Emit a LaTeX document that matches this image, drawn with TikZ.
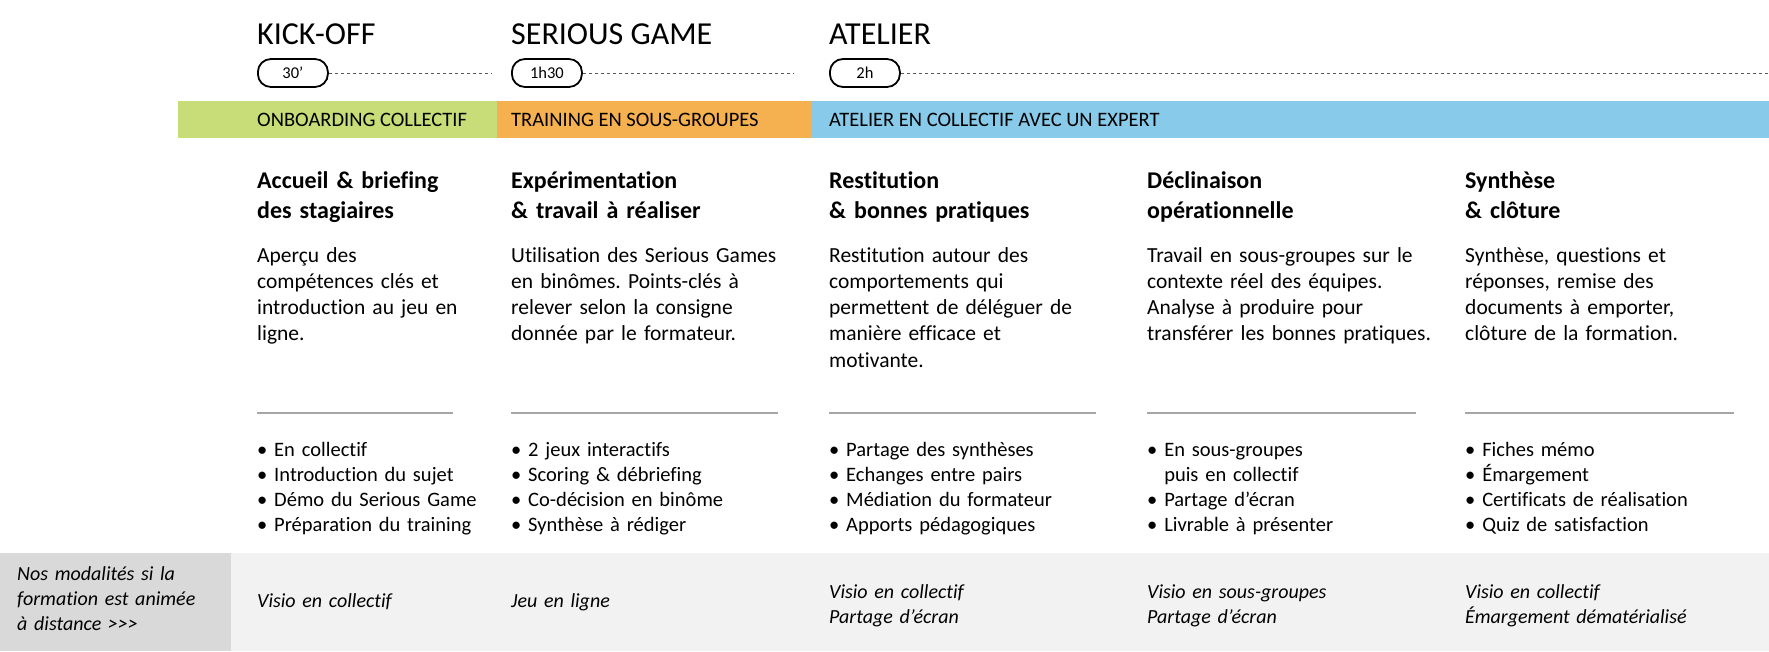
\documentclass[tikz,border=0pt]{standalone}
\usepackage{fontspec}
\setmainfont{Carlito}[Ligatures={NoCommon}]
\usetikzlibrary{positioning}
\frenchspacing

\definecolor{onbgreen}{HTML}{C8DC78}
\definecolor{trainorange}{HTML}{F5B04F}
\definecolor{atelierblue}{HTML}{87CAE9}
\definecolor{modgrey}{HTML}{F2F2F2}
\definecolor{modgreydark}{HTML}{D9D9D9}
\definecolor{sepgrey}{HTML}{A6A6A6}
\definecolor{dashgrey}{HTML}{595959}

\begin{document}
\begin{tikzpicture}[x=1pt, y=-1pt,
    every node/.style={inner sep=0pt, anchor=base west, align=left, text width=320pt},
    phase/.style={text width=, font=\fontsize{32}{38}\selectfont},
    duree/.style={draw, line width=1.8pt, rounded corners=13pt, minimum width=70pt,
    minimum height=28pt, anchor=west, align=center, text width=, font=\fontsize{16.5}{19}\selectfont},
    bandtext/.style={text width=, font=\fontsize{20.5}{24}\selectfont},
    titre/.style={font=\bfseries\fontsize{24}{30}\selectfont},
    desc/.style={font=\fontsize{21.5}{26.3}\selectfont},
    puces/.style={font=\fontsize{20.5}{25}\selectfont},
    modalite/.style={font=\itshape\fontsize{20}{25}\selectfont}]

    \useasboundingbox (0,0) rectangle (1769,651);

    % phases et durees
    \node[phase] (kick) at (257,44) {KICK-OFF};
    \node[phase] (serious) at (511,44) {SERIOUS GAME};
    \node[phase] (atelier) at (829,44) {ATELIER};

    \node[duree] (d1) at (257,73) {30’};
    \node[duree] (d2) at (511,73) {1h30};
    \node[duree] (d3) at (829,73) {2h};
    \coordinate (e1) at (492,73);
    \coordinate (e2) at (793,73);
    \coordinate (e3) at (1769,73);
    \draw[dashed, dashgrey, thin] (d1.east) -- (e1);
    \draw[dashed, dashgrey, thin] (d2.east) -- (e2);
    \draw[dashed, dashgrey, thin] (d3.east) -- (e3);

    % bandeau de couleur
    \fill[onbgreen] (178,101) rectangle (497,138);
    \fill[trainorange] (497,101) rectangle (812,138);
    \fill[atelierblue] (812,101) rectangle (1769,138);
    \node[bandtext] (b1) at (257,126) {ONBOARDING COLLECTIF};
    \node[bandtext] (b2) at (511,126) {TRAINING EN SOUS-GROUPES};
    \node[bandtext] (b3) at (829,126) {ATELIER EN COLLECTIF AVEC UN EXPERT};

    % titres des etapes
    \node[titre] (t1) at (257,188) {Accueil \& briefing\\des stagiaires};
    \node[titre] (t2) at (511,188) {Expérimentation\\\& travail à réaliser};
    \node[titre] (t3) at (829,188) {Restitution\\\& bonnes pratiques};
    \node[titre] (t4) at (1147,188) {Déclinaison\\opérationnelle};
    \node[titre] (t5) at (1465,188) {Synthèse\\\& clôture};

    % descriptions
    \node[desc, below=74pt of t1.base west, anchor=base west] (p1)
        {Aperçu des\\compétences clés et\\introduction au jeu en\\ligne.};
    \node[desc, below=74pt of t2.base west, anchor=base west] (p2)
        {Utilisation des Serious Games\\en binômes. Points-clés à\\relever selon la consigne\\donnée par le formateur.};
    \node[desc, below=74pt of t3.base west, anchor=base west] (p3)
        {Restitution autour des\\comportements qui\\permettent de déléguer de\\manière efficace et\\motivante.};
    \node[desc, below=74pt of t4.base west, anchor=base west] (p4)
        {Travail en sous-groupes sur le\\contexte réel des équipes.\\Analyse à produire pour\\transférer les bonnes pratiques.};
    \node[desc, below=74pt of t5.base west, anchor=base west] (p5)
        {Synthèse, questions et\\réponses, remise des\\documents à emporter,\\clôture de la formation.};

    % filets
    \draw[sepgrey, line width=1.2pt] (257,413) -- (453,413);
    \draw[sepgrey, line width=1.2pt] (511,413) -- (778,413);
    \draw[sepgrey, line width=1.2pt] (829,413) -- (1096,413);
    \draw[sepgrey, line width=1.2pt] (1147,413) -- (1416,413);
    \draw[sepgrey, line width=1.2pt] (1465,413) -- (1734,413);

    % listes
    \node[puces, below=268pt of t1.base west, anchor=base west] (l1)
        {\textbullet\ En collectif\\\textbullet\ Introduction du sujet\\\textbullet\ Démo du Serious Game\\\textbullet\ Préparation du training};
    \node[puces, below=268pt of t2.base west, anchor=base west] (l2)
        {\textbullet\ 2 jeux interactifs\\\textbullet\ Scoring \& débriefing\\\textbullet\ Co-décision en binôme\\\textbullet\ Synthèse à rédiger};
    \node[puces, below=268pt of t3.base west, anchor=base west] (l3)
        {\textbullet\ Partage des synthèses\\\textbullet\ Echanges entre pairs\\\textbullet\ Médiation du formateur\\\textbullet\ Apports pédagogiques};
    \node[puces, below=268pt of t4.base west, anchor=base west] (l4)
        {\textbullet\ En sous-groupes\\\phantom{\textbullet\ }puis en collectif\\\textbullet\ Partage d’écran\\\textbullet\ Livrable à présenter};
    \node[puces, below=268pt of t5.base west, anchor=base west] (l5)
        {\textbullet\ Fiches mémo\\\textbullet\ Émargement\\\textbullet\ Certificats de réalisation\\\textbullet\ Quiz de satisfaction};

    % modalites a distance
    \fill[modgrey] (0,553) rectangle (1769,651);
    \fill[modgreydark] (0,553) rectangle (231,651);
    \node[modalite] (modal) at (17,580) {Nos modalités si la\\formation est animée\\à distance >{}>{}>};
    \node[modalite] (v1) at (257,607) {Visio en collectif};
    \node[modalite] (v2) at (511,607) {Jeu en ligne};
    \node[modalite] (v3) at (829,598) {Visio en collectif\\Partage d’écran};
    \node[modalite] (v4) at (1147,598) {Visio en sous-groupes\\Partage d’écran};
    \node[modalite] (v5) at (1465,598) {Visio en collectif\\Émargement dématérialisé};
\end{tikzpicture}
\end{document}
